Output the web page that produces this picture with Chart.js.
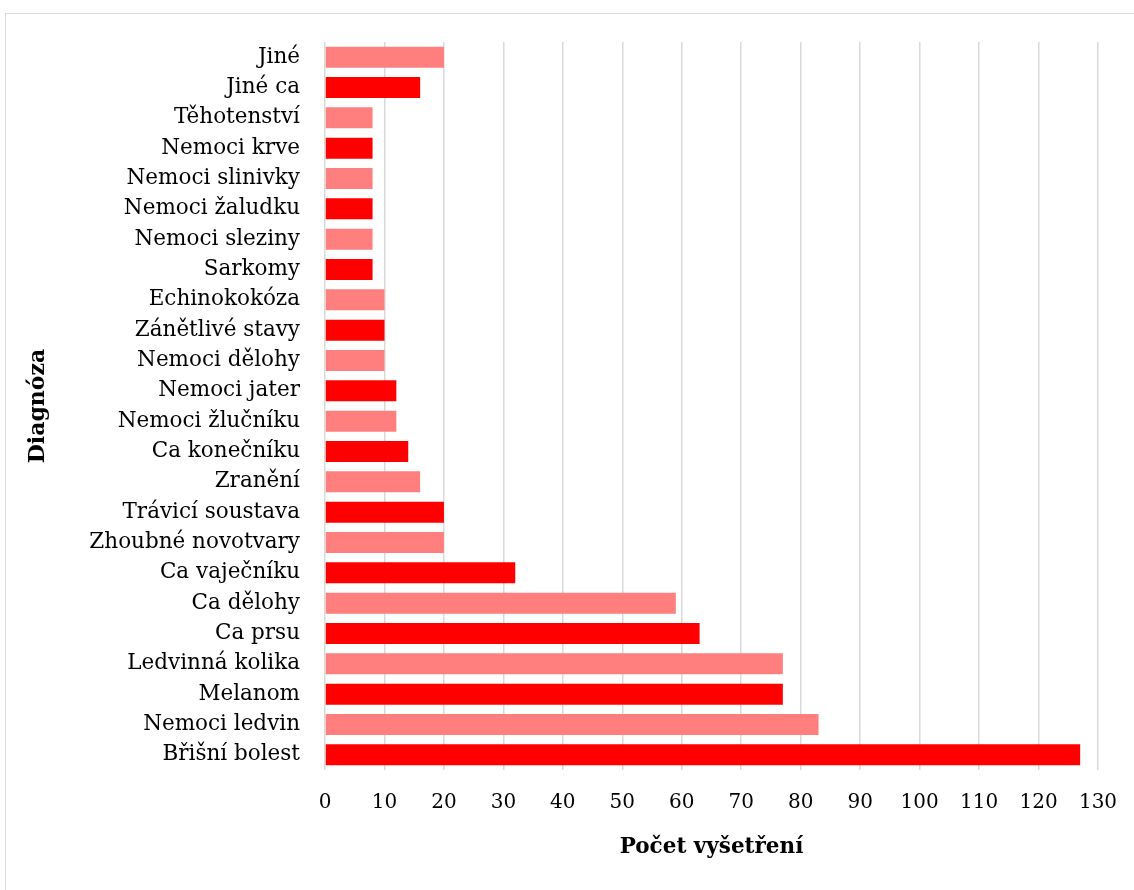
<!DOCTYPE html>
<html>
<head>
<meta charset="utf-8">
<title>Diagnóza – počet vyšetření</title>
<script src="https://cdn.jsdelivr.net/npm/chart.js@4/dist/chart.umd.min.js"></script>
<style>
  html, body { margin: 0; padding: 0; background: #fff; overflow: hidden; }
  #wrap { position: relative; width: 1134px; height: 890px; }
  #frame { position: absolute; left: 5px; top: 13px; width: 1200px; height: 1000px;
           border: 1.5px solid #d9d9d9; box-sizing: border-box; }
  #c { position: absolute; left: 0; top: 0; }
</style>
</head>
<body>
<div id="wrap">
  <div id="frame"></div>
  <canvas id="c" width="1134" height="890"></canvas>
</div>
<script>
// diagnoses, top to bottom
var diagnozy = [
  'Jiné', 'Jiné ca', 'Těhotenství', 'Nemoci krve', 'Nemoci slinivky',
  'Nemoci žaludku', 'Nemoci sleziny', 'Sarkomy', 'Echinokokóza',
  'Zánětlivé stavy', 'Nemoci dělohy', 'Nemoci jater', 'Nemoci žlučníku',
  'Ca konečníku', 'Zranění', 'Trávicí soustava', 'Zhoubné novotvary',
  'Ca vaječníku', 'Ca dělohy', 'Ca prsu', 'Ledvinná kolika', 'Melanom',
  'Nemoci ledvin', 'Břišní bolest'
];
var pocty = [
  20, 16, 8, 8, 8,
  8, 8, 8, 10,
  10, 10, 12, 12,
  14, 16, 20, 20,
  32, 59, 63, 77, 77,
  83, 127
];
var osaMin = 0, osaMax = 130, krok = 10;

var SVETLA = '#ff7f7f', CERVENA = '#ff0000';
var barvy = diagnozy.map(function (d, i) { return i % 2 === 0 ? SVETLA : CERVENA; });

var pismo = 'DejaVu Serif';

new Chart(document.getElementById('c'), {
  type: 'bar',
  data: {
    labels: diagnozy,
    datasets: [{
      data: pocty,
      backgroundColor: barvy,
      borderWidth: 0,
      barPercentage: 0.69,
      categoryPercentage: 1
    }]
  },
  options: {
    indexAxis: 'y',
    responsive: false,
    animation: false,
    layout: { padding: { top: 42, right: 36, bottom: 0, left: 0 } },
    plugins: { legend: { display: false }, tooltip: { enabled: false } },
    scales: {
      x: {
        min: osaMin,
        max: osaMax,
        ticks: { stepSize: krok, color: '#000', padding: 21, font: { family: pismo, size: 20 } },
        grid: { color: '#d9d9d9', lineWidth: 1.5, drawTicks: false },
        border: { display: false },
        title: {
          display: true, text: 'Počet vyšetření', color: '#000',
          font: { family: pismo, size: 21.5, weight: 'bold' },
          padding: { top: 0, bottom: 30 }
        },
        // fixed axis band; the last tick label fits inside the right padding
        afterFit: function (s) { s.height = 120; s.paddingLeft = 0; s.paddingRight = 0; }
      },
      y: {
        ticks: { color: '#000', padding: 25, font: { family: pismo, size: 21.5 } },
        grid: { display: false, drawTicks: false },
        border: { display: false },
        title: {
          display: true, text: 'Diagnóza', color: '#000',
          font: { family: pismo, size: 22, weight: 'bold' },
          padding: { top: 25, bottom: 0 }
        },
        afterFit: function (s) { s.width = 325; }
      }
    }
  }
});
</script>
</body>
</html>
